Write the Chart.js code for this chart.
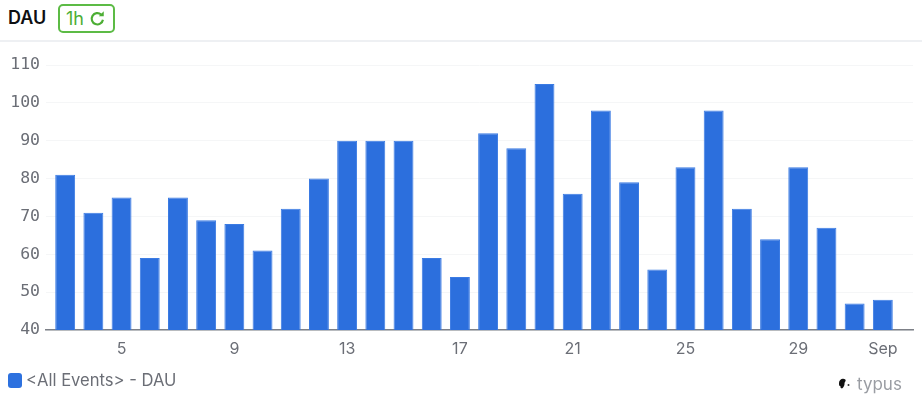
<!DOCTYPE html>
<html>
<head>
<meta charset="utf-8">
<style>
  html, body { margin: 0; padding: 0; background: #fff; width: 922px; height: 396px; overflow: hidden; }
  body { position: relative; font-family: Inter, sans-serif; }
  .title { position: absolute; left: 8px; top: 7px; font-size: 18px; line-height: 22px; font-weight: 600; color: #0e0f12; }
  .badge { position: absolute; left: 58px; top: 4px; width: 53px; height: 25px; border: 2px solid #5cbb45; border-radius: 5px; color: #4cae34; font-size: 18px; line-height: 25px; }
  .badge span { position: absolute; left: 6px; top: 0; }
  .badge svg { position: absolute; left: 29px; top: 4px; }
  .rule { position: absolute; left: 0; top: 40px; width: 922px; height: 2px; background: #eef0f3; }
  .wrap { position: absolute; left: 0; top: 42px; width: 922px; height: 354px; }
  .legend-box { position: absolute; left: 8px; top: 373px; width: 14px; height: 15px; border-radius: 3px; background: #2d71df; }
  .legend-text { position: absolute; left: 26px; top: 370px; font-size: 16.6px; line-height: 20px; color: #6b6e76; }
  .brand { position: absolute; left: 857px; top: 374px; font-size: 17px; line-height: 20px; color: #9a9da3; }
  .brand-icon { position: absolute; left: 838px; top: 377px; }
</style>
</head>
<body>
<div class="title">DAU</div>
<div class="badge"><span>1h</span>
  <svg width="17" height="17" viewBox="0 0 15 15"><path d="M12.3 8.6a5 5 0 1 1-1.6-4.6" fill="none" stroke="#4cae34" stroke-width="1.9"/><path d="M13 1.2v4.4H8.6z" fill="#4cae34"/></svg>
</div>
<div class="rule"></div>
<div class="wrap"><canvas id="chart" width="922" height="354"></canvas></div>
<div class="legend-box"></div>
<div class="legend-text" id="legend"></div>
<svg class="brand-icon" width="14" height="14" viewBox="0 0 14 14"><path d="M1 6c0-3 3-5 5-4 2 0 2 2 1 3-1 1 0 2-1 4-1 2-2 3-3 2-1 0 0-2-1-2S1 8 1 6z" fill="#111"/><circle cx="10.5" cy="8" r="1" fill="#333"/></svg>
<div class="brand">typus</div>
<script src="https://cdn.jsdelivr.net/npm/chart.js"></script>
<script>
const days = ['3','4','5','6','7','8','9','10','11','12','13','14','15','16','17','18','19','20','21','22','23','24','25','26','27','28','29','30','31','Sep'];
const dau = [81,71,75,59,75,69,68,61,72,80,90,90,90,59,54,92,88,105,76,98,79,56,83,98,72,64,83,67,47,48];
const tickDays = ['5','9','13','17','21','25','29','Sep'];
const yTicks = [40,50,60,70,80,90,100,110];
const seriesName = '<All Events> - DAU';

document.getElementById('legend').textContent = seriesName;

new Chart(document.getElementById('chart'), {
  type: 'bar',
  data: {
    datasets: [{
      label: seriesName,
      data: days.map((d, i) => ({ x: i, y: dau[i] })),
      backgroundColor: '#2c6fdd',
      borderColor: '#3b7be3',
      borderWidth: { left: 1, right: 1, top: 1, bottom: 0 },
      barPercentage: 0.98,
      categoryPercentage: 0.72,
    }],
  },
  options: {
    responsive: false,
    animation: false,
    layout: { padding: { top: 23, left: 0, right: 9, bottom: 36 } },
    scales: {
      x: {
        type: 'linear',
        offset: false,
        min: -0.68,
        max: 30.07,
        afterBuildTicks: (axis) => {
          axis.ticks = tickDays.map((d) => ({ value: days.indexOf(d) }));
        },
        afterFit: (axis) => { axis.height = 30; },
        ticks: {
          autoSkip: false,
          maxRotation: 0,
          padding: 2,
          color: '#6b6e76',
          font: { family: 'Inter', size: 16 },
          callback: (v) => days[v],
        },
        grid: { display: false },
        border: { color: '#7d8087', width: 1.5 },
      },
      y: {
        min: 40,
        max: 110,
        afterBuildTicks: (axis) => {
          axis.ticks = yTicks.map((v) => ({ value: v }));
        },
        afterFit: (axis) => { axis.width = 46; },
        ticks: {
          padding: 6,
          color: '#6b6e76',
          font: { family: 'DejaVu Sans Mono', size: 16.5 },
        },
        grid: { color: '#f5f6f7', drawTicks: false },
        border: { display: false },
      },
    },
    plugins: {
      tooltip: { enabled: false },
      legend: { display: false },
    },
  },
});
</script>
</body>
</html>
